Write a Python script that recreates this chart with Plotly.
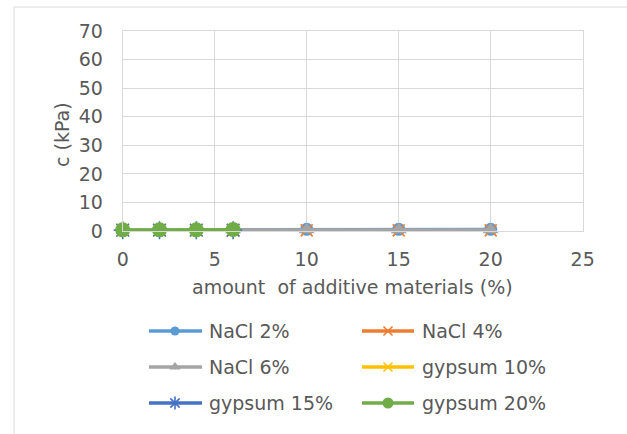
import plotly.graph_objects as go

# ---- data -------------------------------------------------------------
nacl_x = [6, 10, 15, 20]
gypsum_x = [0, 2, 4, 6]

nacl_2 = [0.5, 0.6, 0.6, 0.6]
nacl_4 = [0.2, 0.2, 0.2, 0.2]
nacl_6 = [0.4, 0.4, 0.4, 0.4]
gypsum_10 = [0.3, 0.3, 0.3, 0.3]
gypsum_15 = [0.3, 0.3, 0.3, 0.3]
gypsum_20 = [0.4, 0.4, 0.4, 0.5]

x_ticks = [0, 5, 10, 15, 20, 25]
y_ticks = [0, 10, 20, 30, 40, 50, 60, 70]

series = [
    ("NaCl 2%", nacl_x, nacl_2, "#5B9BD5", "circle", 13),
    ("NaCl 4%", nacl_x, nacl_4, "#ED7D31", "x-thin-open", 12),
    ("NaCl 6%", nacl_x, nacl_6, "#A5A5A5", "triangle-up", 14),
    ("gypsum 10%", gypsum_x, gypsum_10, "#FFC000", "x-thin-open", 12),
    ("gypsum 15%", gypsum_x, gypsum_15, "#4472C4", "asterisk-open", 15),
    ("gypsum 20%", gypsum_x, gypsum_20, "#70AD47", "circle", 15),
]

W, H = 627, 434
FONT = "DejaVu Sans"
FS = 19
TXT = "#595959"
GRID = "#D9D9D9"

fig = go.Figure()

for name, xs, ys, col, sym, size in series:
    open_sym = sym.endswith("open")
    fig.add_trace(go.Scatter(
        x=xs, y=ys, mode="lines+markers", name=name,
        line=dict(color=col, width=3),
        marker=dict(symbol=sym, size=size, color=col,
                    line=dict(color=col, width=1.6 if open_sym else 0)),
        cliponaxis=False, showlegend=False,
    ))

# legend drawn on an overlay axis measured in pixels
legend_cols = [(149, 202, 175, 207), (362, 414, 388, 420)]
legend_rows = [331, 367, 403]
for i, (name, xs, ys, col, sym, size) in enumerate(series):
    c = legend_cols[i % 2]
    r = legend_rows[i // 2]
    open_sym = sym.endswith("open")
    fig.add_trace(go.Scatter(
        x=[c[0], c[1]], y=[r, r], mode="lines",
        line=dict(color=col, width=3.5), xaxis="x2", yaxis="y2",
        showlegend=False, hoverinfo="skip",
    ))
    fig.add_trace(go.Scatter(
        x=[c[2]], y=[r], mode="markers",
        marker=dict(symbol=sym, size=max(size - 4, 9), color=col,
                    line=dict(color=col, width=1.6 if open_sym else 0)),
        xaxis="x2", yaxis="y2", showlegend=False, hoverinfo="skip",
    ))
    fig.add_annotation(x=c[3], y=r, xref="x2", yref="y2", text=name,
                       showarrow=False, xanchor="left", yanchor="middle",
                       font=dict(family=FONT, size=FS, color=TXT))

x0, x1 = 122.7, 582.7
y_top, y_bot = 31, 231

fig.update_layout(
    width=W, height=H,
    margin=dict(l=0, r=0, t=0, b=0, autoexpand=False),
    paper_bgcolor="white", plot_bgcolor="rgba(0,0,0,0)",
    font=dict(family=FONT, size=FS, color=TXT),
    xaxis=dict(
        domain=[x0 / W, x1 / W], range=[0, 25], tickvals=x_ticks,
        showgrid=True, gridcolor=GRID, gridwidth=1, zeroline=False,
        showline=True, linecolor=GRID, mirror=True, automargin=False,
        ticks="", ticklabelstandoff=11, anchor="y",
        tickfont=dict(family=FONT, size=FS, color=TXT),
    ),
    yaxis=dict(
        domain=[1 - y_bot / H, 1 - y_top / H], range=[0, 70], tickvals=y_ticks,
        showgrid=True, gridcolor=GRID, gridwidth=1, zeroline=False,
        showline=True, linecolor=GRID, mirror=True, automargin=False,
        ticks="", ticklabelstandoff=15, anchor="x",
        tickfont=dict(family=FONT, size=FS, color=TXT),
    ),
    xaxis2=dict(domain=[0, 1], range=[0, W], visible=False, anchor="y2",
                fixedrange=True, automargin=False),
    yaxis2=dict(domain=[0, 1], range=[H, 0], visible=False, anchor="x2",
                fixedrange=True, automargin=False),
    showlegend=False,
)

fig.add_annotation(x=352 / W, y=1 - 287 / H, xref="paper", yref="paper",
                   text="amount  of additive materials (%)", showarrow=False,
                   xanchor="center", yanchor="middle",
                   font=dict(family=FONT, size=FS, color=TXT))
fig.add_annotation(x=62 / W, y=1 - 134 / H, xref="paper", yref="paper",
                   text="c (kPa)", textangle=-90, showarrow=False,
                   xanchor="center", yanchor="middle",
                   font=dict(family=FONT, size=FS, color=TXT))

# chart area border
fig.add_shape(type="rect", xref="paper", yref="paper",
              x0=14 / W, x1=1.05, y0=-0.05, y1=1 - 7 / H,
              line=dict(color=GRID, width=1), layer="below")

fig.write_html("out.html")
